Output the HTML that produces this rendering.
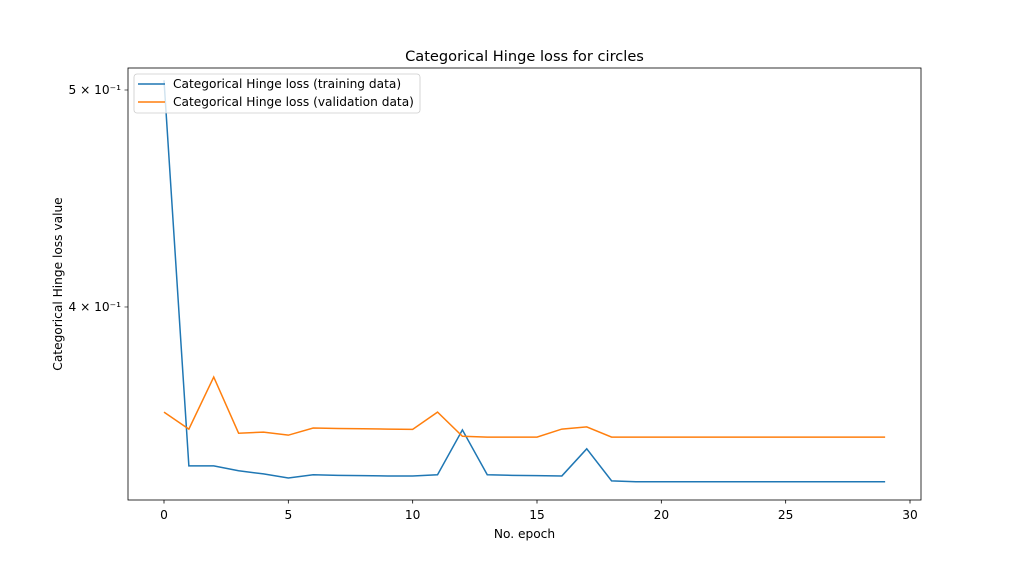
<!DOCTYPE html>
<html><head><meta charset="utf-8"><style>
body{margin:0;background:#fff;font-family:"DejaVu Sans","Liberation Sans",sans-serif;}
svg text{font-family:"DejaVu Sans","Liberation Sans",sans-serif;fill:#000;}
</style></head><body>
<svg id="chart" width="1024" height="564" xmlns="http://www.w3.org/2000/svg">
<rect width="1024" height="564" fill="#fff"/>
<text x="524.5" y="61" font-size="14.6" text-anchor="middle">Categorical Hinge loss for circles</text>
<g id="plot"></g>
<rect x="128" y="68" width="793" height="432" fill="none" stroke="#000" stroke-width="0.8"/>
<text x="524.5" y="538" font-size="12.2" text-anchor="middle">No. epoch</text>
<text transform="translate(62,284) rotate(-90)" font-size="12.2" text-anchor="middle">Categorical Hinge loss value</text>
<g>
<rect x="134" y="74" width="286" height="39" rx="3" fill="#fff" fill-opacity="0.8" stroke="#ccc" stroke-width="0.8"/>
<line x1="138" y1="84" x2="165" y2="84" stroke="#1f77b4" stroke-width="1.5"/>
<text x="173" y="88" font-size="12.2">Categorical Hinge loss (training data)</text>
<line x1="138" y1="102" x2="165" y2="102" stroke="#ff7f0e" stroke-width="1.5"/>
<text x="173" y="106" font-size="12.2">Categorical Hinge loss (validation data)</text>
</g>
</svg>
<script>
const epochs=[0,1,2,3,4,5,6,7,8,9,10,11,12,13,14,15,16,17,18,19,20,21,22,23,24,25,26,27,28,29];
const trainLoss=[0.505,0.3397,0.3397,0.3380,0.3369,0.3355,0.3366,0.3364,0.3363,0.3362,0.3362,0.3366,0.3525,0.3366,0.3364,0.3363,0.3362,0.3457,0.3345,0.3342,0.3342,0.3342,0.3342,0.3342,0.3342,0.3342,0.3342,0.3342,0.3342,0.3342];
const valLoss=[0.3590,0.3528,0.3722,0.3513,0.3517,0.3506,0.3532,0.3530,0.3529,0.3528,0.3527,0.3590,0.3502,0.3499,0.3499,0.3499,0.3528,0.3536,0.3499,0.3499,0.3499,0.3499,0.3499,0.3499,0.3499,0.3499,0.3499,0.3499,0.3499,0.3499];
const xTicks=[0,5,10,15,20,25,30];
const yTicks=[0.4,0.5];
const yTickLabels=["4 × 10⁻¹","5 × 10⁻¹"];
const NS="http://www.w3.org/2000/svg";
const x=v=>164+(v-0)*(910-164)/30;
const y=v=>90-(Math.log10(v)-Math.log10(0.5))*2239;
const g=document.getElementById('plot');
function mk(t,a){const e=document.createElementNS(NS,t);for(const k in a)e.setAttribute(k,a[k]);g.appendChild(e);return e;}
xTicks.forEach(t=>{
  const l=mk('line',{x1:x(t),x2:x(t),y1:500,y2:503.5,stroke:'#000','stroke-width':0.8});
  
  
  const tx=mk('text',{x:x(t),y:519,'font-size':12.2,'text-anchor':'middle'});tx.textContent=t;
  
  
});
yTicks.forEach((t,i)=>{
  const l=mk('line',{x1:124.5,x2:128,y1:y(t),y2:y(t),stroke:'#000','stroke-width':0.6});
  
  
  const tx=mk('text',{x:121,y:y(t)+4,'font-size':12.2,'text-anchor':'end'});tx.textContent=yTickLabels[i];
  
  
});
function line(arr,c,name){
  const p=mk('polyline',{points:arr.map((v,i)=>x(epochs[i])+','+y(v)).join(' '),fill:'none',stroke:c,'stroke-width':1.5,'clip-path':'url(#clip)'});
  
  
}
const defs=mk('defs',{});const cp=document.createElementNS(NS,'clipPath');cp.setAttribute('id','clip');
const cr=document.createElementNS(NS,'rect');cr.setAttribute('x',128);cr.setAttribute('y',68);cr.setAttribute('width',793);cr.setAttribute('height',432);cp.appendChild(cr);defs.appendChild(cp);
line(trainLoss,'#1f77b4','training-loss-line');
line(valLoss,'#ff7f0e','validation-loss-line');
</script>
</body></html>
